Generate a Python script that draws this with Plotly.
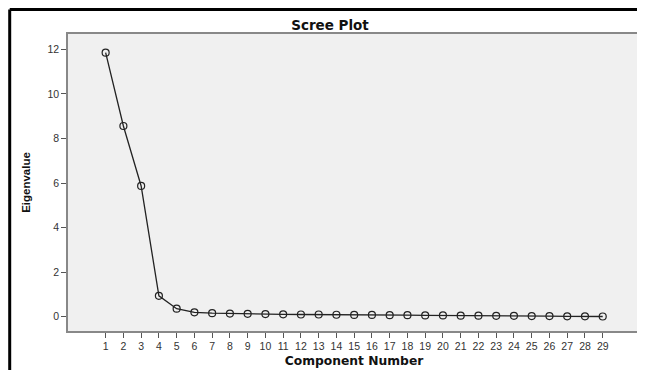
import plotly.graph_objects as go

components = list(range(1, 30))
eigenvalues = [11.85, 8.56, 5.87, 0.94, 0.36, 0.20, 0.16, 0.14, 0.13, 0.12,
               0.11, 0.10, 0.10, 0.09, 0.08, 0.08, 0.07, 0.07, 0.06, 0.06,
               0.05, 0.05, 0.04, 0.04, 0.03, 0.03, 0.02, 0.02, 0.01]
y_ticks = [0, 2, 4, 6, 8, 10, 12]

# page body has an 8px default margin; figure sized to fill the rest
OFF = 8
W, H = 645 - OFF, 370 - OFF
L, R, T, B = 68 - OFF, 3, 34 - OFF, 39
pw, ph = W - L - R, H - T - B

fig = go.Figure()
fig.add_trace(go.Scatter(
    x=components, y=eigenvalues, mode="lines+markers",
    line=dict(color="#222222", width=1.3),
    marker=dict(symbol="circle-open", size=7, color="#222222", line=dict(width=1.2)),
    showlegend=False, hoverinfo="x+y"))

font = "Liberation Sans, Arial, sans-serif"
wide = "DejaVu Sans, Verdana, sans-serif"
fig.update_layout(
    width=W, height=H,
    margin=dict(l=L, r=R, t=T, b=B),
    paper_bgcolor="white", plot_bgcolor="#f0f0f0",
    font=dict(family=font, size=10, color="#333333"),
    title=dict(text="<b>Scree Plot</b>", x=(330 - OFF) / W, xanchor="center",
               y=1 - (25 - OFF) / H, yanchor="middle",
               font=dict(family=wide, size=13.5, color="#111111")),
    xaxis=dict(range=[-1.12, 31.1], tickvals=components, ticktext=[str(c) for c in components],
               ticks="outside", ticklen=5, tickcolor="#555555", showgrid=False, zeroline=False,
               showline=True, linecolor="#888888", linewidth=1.5, mirror=True,
               title=dict(text="<b>Component Number</b>",
                          font=dict(family=wide, size=12.3, color="#111111"), standoff=5),
               tickfont=dict(size=10.5, color="#333333")),
    yaxis=dict(range=[-0.64, 12.69], tickvals=y_ticks,
               ticks="outside", ticklen=5, tickcolor="#555555", showgrid=False, zeroline=False,
               showline=True, linecolor="#888888", linewidth=1.5, mirror=True,
               title=dict(text="<b>Eigenvalue</b>",
                          font=dict(family=font, size=11.5, color="#111111"), standoff=14),
               tickfont=dict(size=10.5, color="#333333")),
)

# outer black frame (left and top)
x_left = (9.5 - OFF - L) / pw
y_top = 1 + (T - (9.5 - OFF)) / ph
fig.add_shape(type="line", xref="paper", yref="paper", x0=x_left, x1=x_left,
              y0=y_top, y1=-(B + 2) / ph, line=dict(color="black", width=3))
fig.add_shape(type="line", xref="paper", yref="paper", x0=x_left, x1=(W - L + 2) / pw,
              y0=y_top, y1=y_top, line=dict(color="black", width=3))

fig.write_html("out.html")
